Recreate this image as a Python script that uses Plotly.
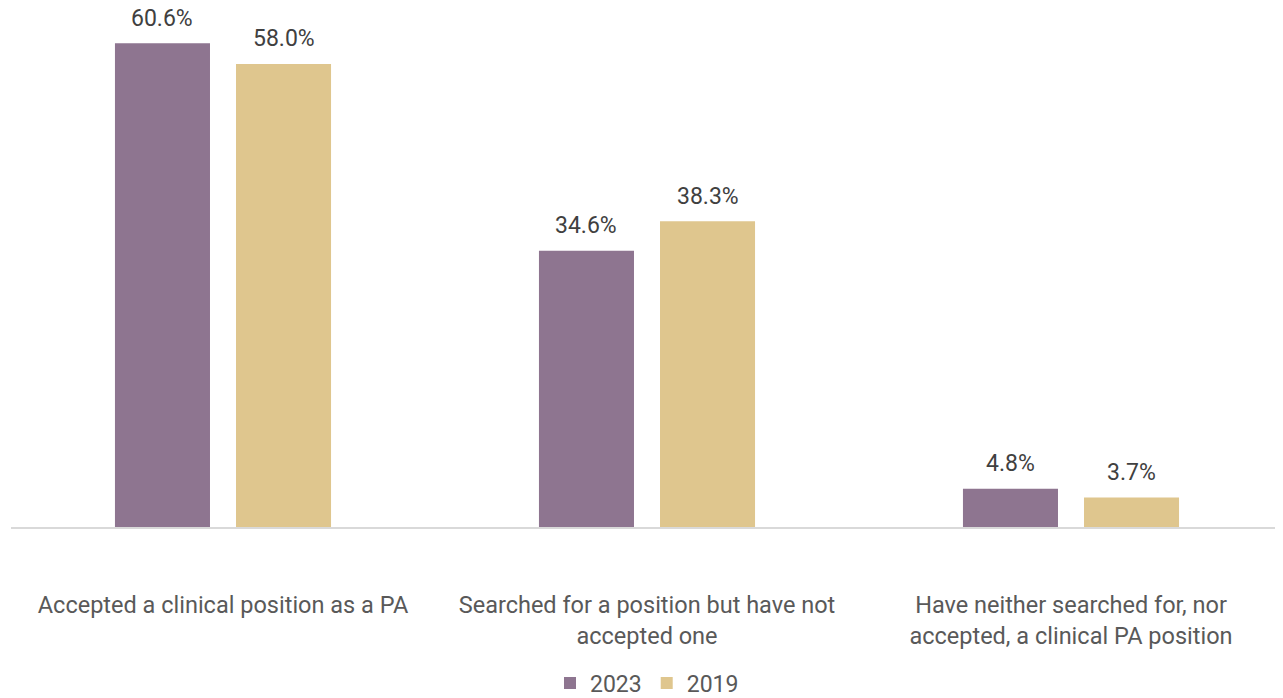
import plotly.graph_objects as go

categories = [
    "Accepted a clinical position as a PA",
    "Searched for a position but have not<br>accepted one",
    "Have neither searched for, nor<br>accepted, a clinical PA position",
]
values_2023 = [60.6, 34.6, 4.8]
values_2019 = [58.0, 38.3, 3.7]
series_names = ["2023", "2019"]
colors = ["#8E7590", "#DFC68E"]

W, H = 1275, 690          # page body has an 8px margin
ML, MR, MT, MB = 3, 0, 12, 171
BARGAP, GROUPGAP = 0.429, 0.215
YMAX = 63.5

fig = go.Figure()
for name, vals, col in zip(series_names, [values_2023, values_2019], colors):
    fig.add_trace(go.Bar(
        x=categories, y=vals, name=name,
        marker=dict(color=col, line=dict(width=0)),
        cliponaxis=False,
    ))

# value labels placed above each bar
plot_w = W - ML - MR
slot = plot_w / len(categories) * (1 - BARGAP) / 2
for i, vals in enumerate([values_2023, values_2019]):
    shift = (i - 0.5) * slot
    for c, v in zip(categories, vals):
        fig.add_annotation(
            x=c, y=v, text=f"{v:.1f}%", showarrow=False,
            xshift=shift, yshift=25, yanchor="middle", borderpad=0,
            font=dict(family="Roboto", size=23, color="#404040"),
        )

plot_h = H - MT - MB
fig.update_layout(
    width=W, height=H,
    margin=dict(l=ML, r=MR, t=MT, b=MB, autoexpand=False),
    paper_bgcolor="white", plot_bgcolor="white",
    barmode="group", bargap=BARGAP, bargroupgap=GROUPGAP,
    font=dict(family="Roboto", color="#595959", size=23),
    showlegend=True,
    legend=dict(orientation="h", x=0.5, xanchor="center", y=-156 / plot_h, yanchor="middle",
                font=dict(family="Roboto", size=23, color="#595959"),
                itemwidth=30, tracegroupgap=0),
    xaxis=dict(showline=True, linecolor="#D9D9D9", linewidth=2, ticks="",
               automargin=False,
               tickfont=dict(family="Roboto", size=23.5, color="#595959"),
               ticklabelstandoff=56),
    yaxis=dict(range=[0, YMAX], visible=False, showgrid=False, zeroline=False,
               automargin=False),
)

fig.write_html("out.html")
